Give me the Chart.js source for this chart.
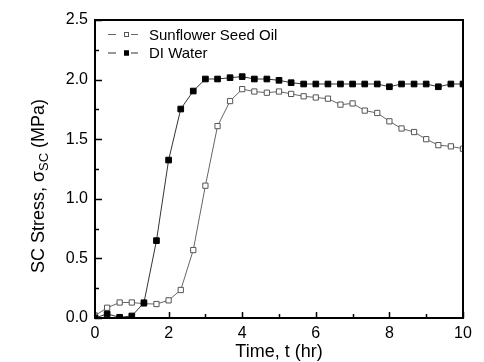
<!DOCTYPE html>
<html>
<head>
<meta charset="utf-8">
<script src="https://cdn.jsdelivr.net/npm/chart.js@4.4.1/dist/chart.umd.min.js"></script>
<style>
  body { margin: 0; background: #fff; }
</style>
</head>
<body>
<canvas id="myChart" width="484" height="362"></canvas>
<script>
const times = [0, 0.33, 0.67, 1, 1.33, 1.67, 2, 2.33, 2.67, 3, 3.33, 3.67, 4, 4.33, 4.67, 5,
  5.33, 5.67, 6, 6.33, 6.67, 7, 7.33, 7.67, 8, 8.33, 8.67, 9, 9.33, 9.67, 10];

const sunflowerOil = [0.02, 0.086, 0.13, 0.13, 0.12, 0.117, 0.148, 0.235, 0.57, 1.11, 1.61, 1.82,
  1.92, 1.90, 1.89, 1.90, 1.88, 1.86, 1.85, 1.84, 1.79, 1.80, 1.74, 1.72, 1.65, 1.59, 1.56,
  1.50, 1.45, 1.44, 1.42];

const diWater = [0.0, 0.034, 0.006, 0.017, 0.128, 0.649, 1.325, 1.753, 1.904, 2.005, 2.005, 2.016,
  2.025, 2.005, 2.005, 1.994, 1.974, 1.963, 1.963, 1.963, 1.963, 1.963, 1.963, 1.963, 1.94,
  1.963, 1.963, 1.963, 1.94, 1.963, 1.963];

const seriesNames = ["Sunflower Seed Oil", "DI Water"];

const fontFam = "Arial, 'Liberation Sans', sans-serif";

const toPoints = (vals) => vals.map((v, i) => ({x: times[i], y: v}));

// marcos, ticks hacia dentro, leyenda y titulo del eje y
const extras = {
  id: "extras",
  afterDraw(chart) {
    const ctx = chart.ctx;
    const a = chart.chartArea;
    const xs = chart.scales.x;
    const ys = chart.scales.y;
    ctx.save();
    ctx.strokeStyle = "#000";
    ctx.lineWidth = 2;
    ctx.strokeRect(a.left, a.top, a.right - a.left, a.bottom - a.top);

    ctx.lineWidth = 1.5;
    ctx.beginPath();
    for (let v = 0; v <= 2.5001; v += 0.25) {
      const y = Math.round(ys.getPixelForValue(v)) + 0.5;
      const major = Math.abs(v / 0.5 - Math.round(v / 0.5)) < 0.01;
      ctx.moveTo(a.left, y);
      ctx.lineTo(a.left + (major ? 7 : 4), y);
    }
    for (let v = 0; v <= 10; v += 1) {
      const x = Math.round(xs.getPixelForValue(v)) + 0.5;
      ctx.moveTo(x, a.bottom);
      ctx.lineTo(x, a.bottom - (v % 2 === 0 ? 6 : 4));
    }
    ctx.stroke();

    // leyenda
    chart.data.datasets.forEach((ds, i) => {
      const cy = 34 + i * 18.5;
      ctx.strokeStyle = ds.borderColor;
      ctx.lineWidth = 1;
      ctx.beginPath();
      ctx.moveTo(108, cy + 0.5); ctx.lineTo(116, cy + 0.5);
      ctx.moveTo(131, cy + 0.5); ctx.lineTo(138, cy + 0.5);
      ctx.stroke();
      ctx.fillStyle = ds.pointBackgroundColor;
      ctx.strokeStyle = ds.pointBorderColor;
      ctx.fillRect(124, cy - 2, 5, 5);
      ctx.strokeRect(124.5, cy - 1.5, 4, 4);
      ctx.fillStyle = "#000";
      ctx.font = "15px " + fontFam;
      ctx.textBaseline = "alphabetic";
      ctx.textAlign = "left";
      ctx.fillText(ds.label, 149, cy + 5.5);
    });

    // titulo eje y con subindice
    ctx.translate(44, 186);
    ctx.rotate(-Math.PI / 2);
    const big = "18px " + fontFam;
    const small = "13px " + fontFam;
    const parts = [["SC Stress, \u03c3", big, 0], ["SC", small, 4], [" (MPa)", big, 0]];
    let total = 0;
    parts.forEach(p => { ctx.font = p[1]; total += ctx.measureText(p[0]).width; });
    let x = -total / 2;
    ctx.fillStyle = "#000";
    ctx.textAlign = "left";
    parts.forEach(p => {
      ctx.font = p[1];
      ctx.fillText(p[0], x, p[2]);
      x += ctx.measureText(p[0]).width;
    });
    ctx.restore();
  }
};

new Chart(document.getElementById("myChart"), {
  type: "line",
  data: {
    datasets: [{
      label: seriesNames[0],
      data: toPoints(sunflowerOil),
      borderColor: "#666",
      borderWidth: 1,
      pointStyle: "rect",
      pointRadius: 3.7,
      pointBackgroundColor: "#fff",
      pointBorderColor: "#555",
      pointBorderWidth: 1,
      order: 1
    }, {
      label: seriesNames[1],
      data: toPoints(diWater),
      borderColor: "#333",
      borderWidth: 1,
      pointStyle: "rect",
      pointRadius: 4,
      pointBackgroundColor: "#000",
      pointBorderColor: "#000",
      pointBorderWidth: 1,
      order: 0
    }]
  },
  options: {
    responsive: false,
    animation: false,
    devicePixelRatio: 1,
    layout: {padding: {top: 20, right: 21, left: 0, bottom: 0}},
    plugins: {legend: {display: false}, tooltip: {enabled: false}},
    scales: {
      x: {
        type: "linear",
        min: 0, max: 10,
        grid: {display: false, drawTicks: false},
        border: {display: false},
        ticks: {stepSize: 2, color: "#000", padding: 6, font: {size: 16, family: fontFam}},
        title: {display: true, text: "Time, t (hr)", color: "#000",
          font: {size: 18, family: fontFam, lineHeight: 1.1}, padding: {top: 0, bottom: 0}},
        afterFit: (s) => { s.height = 44; }
      },
      y: {
        min: 0, max: 2.5,
        grid: {display: false, drawTicks: false},
        border: {display: false},
        ticks: {stepSize: 0.5, color: "#000", padding: 7, font: {size: 16, family: fontFam},
          callback: (v) => v.toFixed(1)},
        afterFit: (s) => { s.width = 95; }
      }
    }
  },
  plugins: [extras]
});
</script>
</body>
</html>
